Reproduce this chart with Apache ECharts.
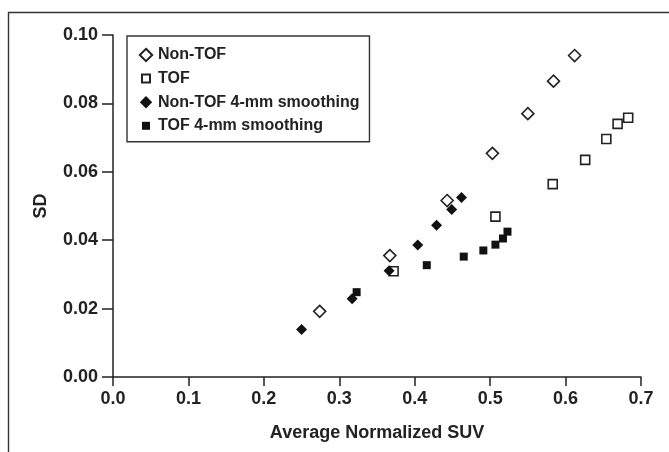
<!DOCTYPE html>
<html>
<head>
<meta charset="utf-8">
<script src="https://cdn.jsdelivr.net/npm/echarts@6/dist/echarts.min.js"></script>
<style>
html,body{margin:0;padding:0;background:#fff;}
#c{width:669px;height:452px;}
</style>
</head>
<body>
<div id="c"></div>
<script>
var seriesNames = ['Non-TOF', 'TOF', 'Non-TOF 4-mm smoothing', 'TOF 4-mm smoothing'];
var xTicks = [0.0, 0.1, 0.2, 0.3, 0.4, 0.5, 0.6, 0.7];
var yTicks = [0.00, 0.02, 0.04, 0.06, 0.08, 0.10];

var nonTofX = [0.274, 0.367, 0.443, 0.503, 0.550, 0.584, 0.612];
var nonTofY = [0.0192, 0.0355, 0.0516, 0.0654, 0.0770, 0.0865, 0.0940];

var tofX = [0.372, 0.507, 0.583, 0.626, 0.654, 0.669, 0.683];
var tofY = [0.0309, 0.0469, 0.0564, 0.0635, 0.0696, 0.0740, 0.0758];

var nonTofSmX = [0.250, 0.317, 0.366, 0.404, 0.429, 0.449, 0.462];
var nonTofSmY = [0.0139, 0.0229, 0.0311, 0.0386, 0.0444, 0.0490, 0.0525];

var tofSmX = [0.323, 0.416, 0.465, 0.491, 0.507, 0.517, 0.523];
var tofSmY = [0.0248, 0.0327, 0.0352, 0.0370, 0.0387, 0.0405, 0.0425];

function pairs(xs, ys) { return xs.map(function (x, i) { return [x, ys[i]]; }); }

var FONT = "'Liberation Sans', Arial, Helvetica, sans-serif";
var INK = '#222';

var chart = echarts.init(document.getElementById('c'), null, {renderer: 'canvas'});
chart.setOption({
  animation: false,
  backgroundColor: '#fff',
  graphic: [{
    type: 'rect',
    shape: {x: 8.5, y: 12.5, width: 900, height: 700},
    style: {fill: 'none', stroke: '#333', lineWidth: 1.4},
    silent: true
  }],
  grid: {left: 113, right: 28, top: 35, bottom: 75, containLabel: false},
  legend: {
    orient: 'vertical',
    left: 127,
    top: 36,
    padding: [10, 10, 7, 11],
    itemGap: 5.6,
    itemWidth: 14,
    itemHeight: 14,
    backgroundColor: '#fff',
    borderColor: '#333',
    borderWidth: 1.4,
    textStyle: {fontFamily: FONT, fontWeight: 'bold', fontSize: 16, color: INK, lineHeight: 18},
    data: [
      {name: seriesNames[0], icon: 'path://M0 0M14 14M7 0.8L13.2 7L7 13.2L0.8 7Z'},
      {name: seriesNames[1], icon: 'path://M0 0M14 14M3 3L11 3L11 11L3 11Z'},
      {name: seriesNames[2], icon: 'path://M0 0M14 14M7 0.8L13.2 7L7 13.2L0.8 7Z'},
      {name: seriesNames[3], icon: 'path://M0 0M14 14M3 3L11 3L11 11L3 11Z'}
    ]
  },
  xAxis: {
    type: 'value',
    min: xTicks[0],
    max: xTicks[xTicks.length - 1],
    interval: 0.1,
    splitLine: {show: false},
    axisLine: {onZero: false, lineStyle: {color: INK, width: 1.5}},
    axisTick: {length: 9, lineStyle: {color: INK, width: 1.5}},
    axisLabel: {
      margin: 13,
      fontFamily: FONT, fontWeight: 'bold', fontSize: 18, color: INK,
      formatter: function (v) { return v.toFixed(1); }
    },
    name: 'Average Normalized SUV',
    nameLocation: 'middle',
    nameGap: 47,
    nameTextStyle: {fontFamily: FONT, fontWeight: 'bold', fontSize: 18, color: INK}
  },
  yAxis: {
    type: 'value',
    min: yTicks[0],
    max: yTicks[yTicks.length - 1],
    interval: 0.02,
    splitLine: {show: false},
    axisLine: {onZero: false, lineStyle: {color: INK, width: 1.5}},
    axisTick: {length: 11, lineStyle: {color: INK, width: 1.5}},
    axisLabel: {
      margin: 15,
      fontFamily: FONT, fontWeight: 'bold', fontSize: 18, color: INK,
      formatter: function (v) { return v.toFixed(2); }
    },
    name: 'SD',
    nameLocation: 'middle',
    nameGap: 63,
    nameTextStyle: {fontFamily: FONT, fontWeight: 'bold', fontSize: 18, color: INK}
  },
  series: [
    {
      name: seriesNames[0], type: 'scatter', symbol: 'diamond', symbolSize: 12,
      itemStyle: {color: '#fff', borderColor: INK, borderWidth: 1.6, opacity: 1},
      data: pairs(nonTofX, nonTofY), z: 2
    },
    {
      name: seriesNames[1], type: 'scatter', symbol: 'rect', symbolSize: 9,
      itemStyle: {color: '#fff', borderColor: INK, borderWidth: 1.6, opacity: 1},
      data: pairs(tofX, tofY), z: 3
    },
    {
      name: seriesNames[2], type: 'scatter', symbol: 'diamond', symbolSize: 11,
      itemStyle: {color: '#111', borderColor: '#111', borderWidth: 0, opacity: 1},
      data: pairs(nonTofSmX, nonTofSmY), z: 4
    },
    {
      name: seriesNames[3], type: 'scatter', symbol: 'rect', symbolSize: 8,
      itemStyle: {color: '#111', borderColor: '#111', borderWidth: 0, opacity: 1},
      data: pairs(tofSmX, tofSmY), z: 5
    }
  ]
});
</script>
</body>
</html>
